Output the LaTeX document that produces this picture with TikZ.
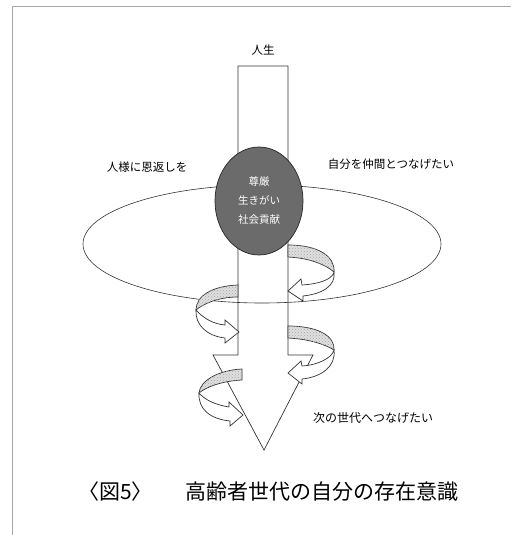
\documentclass[tikz,border=0pt]{standalone}
\usepackage{fontspec}
\setmainfont{Noto Sans CJK JP}
\usetikzlibrary{patterns,shapes.geometric}

\begin{document}
\begin{tikzpicture}[x=1pt,y=-1pt,
  line/.style={draw=black!80, line width=0.7pt},
  band/.style={line, fill=gray!25, postaction={pattern=crosshatch dots, pattern color=gray!70}},
  ribbonarrow/.style={line, fill=white},
  lbl/.style={font=\fontsize{11.5}{13}\selectfont, inner sep=0pt},
  captext/.style={font=\fontsize{21}{24}\selectfont, inner sep=0pt, anchor=west},
]
\useasboundingbox (0,0) rectangle (511,535);
\fill[white] (0,0) rectangle (511,535);
% frame
\draw[gray!70, line width=1pt] (12,535) -- (12,7) -- (511,7);

% life shaft arrow
\draw[line, fill=white] (238,66) -- (288,66) -- (288,355) -- (313,355) -- (264,450) -- (213,355) -- (238,355) -- cycle;

% ring
\node[draw=black!80, line width=0.6pt, ellipse, minimum width=358pt, minimum height=118pt, inner sep=0pt] (ring) at (262,244) {};

% core
\node[draw=black!85, line width=0.7pt, fill=black!58, ellipse, minimum width=88pt, minimum height=108pt, inner sep=0pt,
  text=white, align=center, font=\fontsize{10.5}{19}\selectfont] (core) at (259,201) {尊厳\\生きがい\\社会貢献};

% ribbons R1
\draw[band] (288,245) .. controls (318,245) and (335,256) .. (334,272) .. controls (326,265) and (310,258) .. (288,257) -- cycle;
\draw[ribbonarrow] (334,272) .. controls (332,280) and (318,284) .. (302,285) -- (301,279) -- (288,291) -- (303,301) -- (303,296) .. controls (322,294) and (336,286) .. (334,272) -- cycle;
% R2
\draw[band] (288,326) .. controls (318,326) and (335,336) .. (334,350) .. controls (326,345) and (310,339) .. (288,338) -- cycle;
\draw[ribbonarrow] (334,350) .. controls (332,358) and (318,365) .. (302,366) -- (301,361) -- (288,373) -- (302,384) -- (302,379) .. controls (322,377) and (336,366) .. (334,350) -- cycle;
% L1
\draw[band] (238,285) .. controls (212,286) and (196,296) .. (196,310) .. controls (203,304) and (218,297) .. (238,297) -- cycle;
\draw[ribbonarrow] (196,310) .. controls (204,319) and (214,324) .. (225,325) -- (225,320) -- (239,332) -- (225,343) -- (225,338) .. controls (207,336) and (195,325) .. (196,310) -- cycle;
% L2
\draw[band] (242,369) .. controls (220,370) and (200,380) .. (199,393) .. controls (206,387) and (222,381) .. (242,380) -- cycle;
\draw[ribbonarrow] (199,393) .. controls (206,401) and (217,405) .. (229,407) -- (229,402) -- (243,415) -- (230,426) -- (230,421) .. controls (210,419) and (198,409) .. (199,393) -- cycle;

% labels
\node[lbl] (life) at (263,50) {人生};
\node[lbl] (thanks) at (147,167) {人様に恩返しを};
\node[lbl] (peers) at (391,164) {自分を仲間とつなげたい};
\node[lbl, anchor=west, font=\fontsize{12}{14}\selectfont] (next) at (313,418) {次の世代へつなげたい};

% caption
\node[captext] (fig) at (78,492) {〈図5〉};
\node[captext] (title) at (185,492) {高齢者世代の自分の存在意識};
\end{tikzpicture}
\end{document}
